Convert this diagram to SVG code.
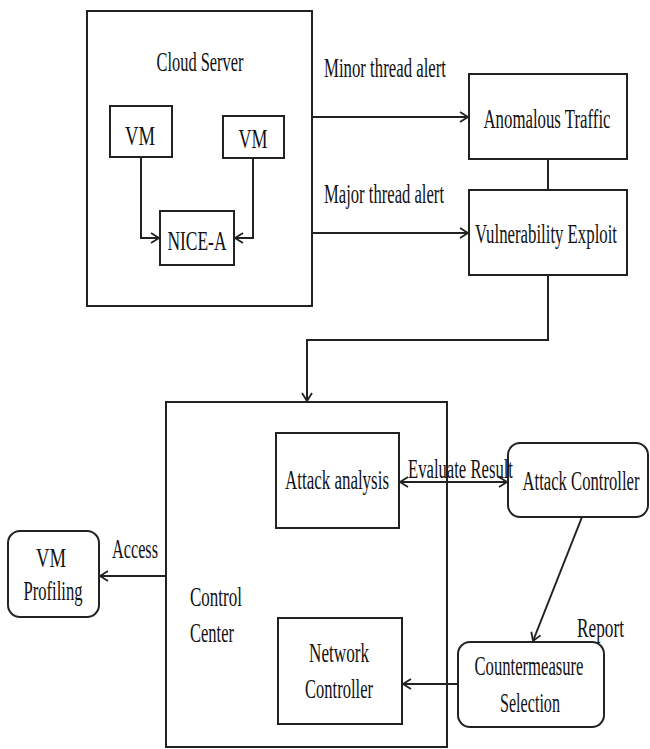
<svg xmlns="http://www.w3.org/2000/svg" width="650" height="749" viewBox="0 0 650 749">
<defs>
<marker id="ah" markerWidth="12" markerHeight="12" refX="10" refY="6" orient="auto-start-reverse" markerUnits="userSpaceOnUse">
<path d="M2,1 L10,6 L2,11" fill="none" stroke="#222" stroke-width="1.8"/>
</marker>
<style>
.box{fill:#fff;stroke:#222;stroke-width:2}
.t{font-family:"Liberation Serif","Times New Roman",serif;font-size:27px;fill:#111}
.m{text-anchor:middle}
.c{fill:none;stroke:#222;stroke-width:2}
</style>
</defs>
<rect width="650" height="749" fill="#fff"/>
<g id="cloud-server">
<rect class="box" x="87" y="11" width="225" height="295"/>
<text class="t m" x="200" y="71" textLength="87" lengthAdjust="spacingAndGlyphs">Cloud Server</text>
</g>
<g id="vm1">
<rect class="box" x="110" y="106" width="62" height="51"/>
<text class="t m" x="140" y="145" textLength="30" lengthAdjust="spacingAndGlyphs">VM</text>
</g>
<g id="vm2">
<rect class="box" x="223" y="116" width="61" height="42"/>
<text class="t m" x="253" y="148" textLength="29" lengthAdjust="spacingAndGlyphs">VM</text>
</g>
<g id="nice-a">
<rect class="box" x="160" y="211" width="74" height="54"/>
<text class="t m" x="197" y="250" textLength="59" lengthAdjust="spacingAndGlyphs">NICE-A</text>
</g>
<g id="anomalous-traffic">
<rect class="box" x="469" y="74" width="158" height="85"/>
<text class="t m" x="547" y="128" textLength="127" lengthAdjust="spacingAndGlyphs">Anomalous Traffic</text>
</g>
<g id="vulnerability-exploit">
<rect class="box" x="469" y="190" width="158" height="85"/>
<text class="t m" x="546" y="243" textLength="142" lengthAdjust="spacingAndGlyphs">Vulnerability Exploit</text>
</g>
<g id="control-center">
<rect class="box" x="166" y="402" width="281" height="345"/>
<text class="t" x="190" y="606" textLength="52" lengthAdjust="spacingAndGlyphs">Control</text>
<text class="t" x="190" y="642" textLength="44" lengthAdjust="spacingAndGlyphs">Center</text>
</g>
<g id="attack-analysis">
<rect class="box" x="276" y="433" width="123" height="95"/>
<text class="t m" x="337" y="489" textLength="104" lengthAdjust="spacingAndGlyphs">Attack analysis</text>
</g>
<g id="network-controller">
<rect class="box" x="278" y="618" width="124" height="106"/>
<text class="t m" x="339" y="662" textLength="60" lengthAdjust="spacingAndGlyphs">Network</text>
<text class="t m" x="339" y="698" textLength="68" lengthAdjust="spacingAndGlyphs">Controller</text>
</g>
<g id="attack-controller">
<rect class="box" x="508" y="443" width="140" height="74" rx="12"/>
<text class="t m" x="581" y="490" textLength="117" lengthAdjust="spacingAndGlyphs">Attack Controller</text>
</g>
<g id="countermeasure-selection">
<rect class="box" x="458" y="642" width="146" height="85" rx="12"/>
<text class="t m" x="529" y="675" textLength="109" lengthAdjust="spacingAndGlyphs">Countermeasure</text>
<text class="t m" x="530" y="712" textLength="60" lengthAdjust="spacingAndGlyphs">Selection</text>
</g>
<g id="vm-profiling">
<rect class="box" x="8" y="531" width="91" height="86" rx="12"/>
<text class="t m" x="51" y="567" textLength="30" lengthAdjust="spacingAndGlyphs">VM</text>
<text class="t m" x="53" y="600" textLength="59" lengthAdjust="spacingAndGlyphs">Profiling</text>
</g>
<g id="connectors">
<path class="c" d="M141,157 V238 H159" marker-end="url(#ah)"/>
<path class="c" d="M253,158 V238 H235" marker-end="url(#ah)"/>
<path class="c" d="M312,117 H468" marker-end="url(#ah)"/>
<path class="c" d="M312,233 H468" marker-end="url(#ah)"/>
<path class="c" d="M548,159 V190"/>
<path class="c" d="M548,275 V340 H307 V401" marker-end="url(#ah)"/>
<path class="c" d="M400,482 H507" marker-start="url(#ah)" marker-end="url(#ah)"/>
<path class="c" d="M582,517 L533,641" marker-end="url(#ah)"/>
<path class="c" d="M458,684 H403" marker-end="url(#ah)"/>
<path class="c" d="M166,576 H100" marker-end="url(#ah)"/>
<text class="t" x="324" y="77" textLength="122" lengthAdjust="spacingAndGlyphs">Minor thread alert</text>
<text class="t" x="324" y="203" textLength="120" lengthAdjust="spacingAndGlyphs">Major thread alert</text>
<text class="t" x="408" y="478" textLength="105" lengthAdjust="spacingAndGlyphs">Evaluate Result</text>
<text class="t" x="577" y="637" textLength="47" lengthAdjust="spacingAndGlyphs">Report</text>
<text class="t" x="112" y="558" textLength="46" lengthAdjust="spacingAndGlyphs">Access</text>
</g>
</svg>
